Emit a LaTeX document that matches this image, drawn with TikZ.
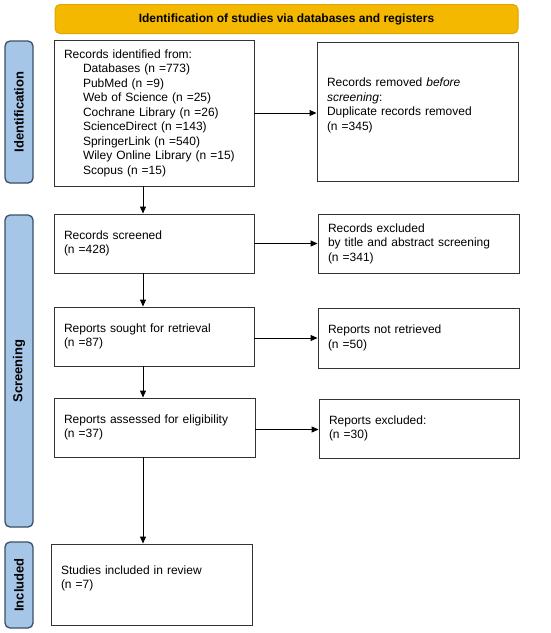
\documentclass[tikz,border=0pt]{standalone}
\usepackage{fontspec}
\setmainfont{Liberation Sans}
\usetikzlibrary{arrows.meta,positioning}
\definecolor{hdrfill}{HTML}{F5B800}
\definecolor{hdrdraw}{HTML}{E0A600}
\definecolor{sidefill}{HTML}{A6C6E7}
\definecolor{sidedraw}{HTML}{3A4F66}
\tikzset{
  box/.style={draw=black!80, line width=0.9pt, rectangle, inner xsep=10pt, inner ysep=2pt,
    align=left, font=\fontsize{12}{14.5}\selectfont, anchor=center},
  sidebox/.style={draw=sidedraw, fill=sidefill, line width=1.3pt, rounded corners=5pt,
    minimum width=28pt, inner sep=0pt},
  sidetext/.style={rotate=90, font=\fontsize{13}{15}\selectfont\bfseries},
  arr/.style={-{Triangle[length=7pt,width=6pt]}, line width=0.9pt, black}
}
\begin{document}
\begin{tikzpicture}[x=1pt,y=-1pt]
\useasboundingbox (0,0) rectangle (550,633);
\fill[white] (0,0) rectangle (550,633);
% header
\node[draw=hdrdraw, fill=hdrfill, line width=1pt, rounded corners=5pt, minimum width=463pt,
  minimum height=29pt, font=\fontsize{12}{14}\selectfont\bfseries] (hdr) at (286.5,19)
  {Identification of studies via databases and registers};
% side labels
\node[sidebox, minimum height=142pt] (sid) at (19,112) {};
\node[sidetext] (sidt) at (sid.center) {Identification};
\node[sidebox, minimum height=312pt] (sscr) at (19,371) {};
\node[sidetext] (sscrt) at (sscr.center) {Screening};
\node[sidebox, minimum height=86pt] (sinc) at (19,585) {};
\node[sidetext] (sinct) at (sinc.center) {Included};
% boxes
\node[box, minimum width=200pt, minimum height=146pt, text width=180pt] (ident) at (154,113)
  {Records identified from:\\
   \hspace*{19pt}Databases (n =773)\\
   \hspace*{19pt}PubMed (n =9)\\
   \hspace*{19pt}Web of Science (n =25)\\
   \hspace*{19pt}Cochrane Library (n =26)\\
   \hspace*{19pt}ScienceDirect (n =143)\\
   \hspace*{19pt}SpringerLink (n =540)\\
   \hspace*{19pt}Wiley Online Library (n =15)\\
   \hspace*{19pt}Scopus (n =15)};
\node[box, minimum width=201pt, minimum height=139pt, text width=181pt] (removed) at (417.5,111.5)
  {Records removed \textit{before}\\ \textit{screening}:\\Duplicate records removed\\(n =345)\\ \mbox{}};
\node[box, minimum width=200pt, minimum height=59pt, text width=180pt] (scr) at (154,243.5)
  {Records screened\\(n =428)};
\node[box, minimum width=201pt, minimum height=59pt, text width=181pt] (excl) at (418.5,243.5)
  {Records excluded\\by title and abstract screening\\(n =341)};
\node[box, minimum width=200pt, minimum height=59pt, text width=180pt] (ret) at (154,336.5)
  {Reports sought for retrieval\\(n =87)};
\node[box, minimum width=201pt, minimum height=60pt, text width=181pt] (notret) at (418.5,338)
  {Reports not retrieved\\(n =50)};
\node[box, minimum width=201pt, minimum height=59pt, text width=181pt] (elig) at (154.5,427.5)
  {Reports assessed for eligibility\\(n =37)};
\node[box, minimum width=200pt, minimum height=59pt, text width=180pt] (exclr) at (419,428.5)
  {Reports excluded:\\(n =30)};
\node[box, minimum width=201pt, minimum height=81pt, text width=181pt] (incl) at (151.5,584.5)
  {Studies included in review\\(n =7)\\ \mbox{}};
% arrows
\draw[arr] (ident.east) -- (ident.east -| removed.west);
\draw[arr] (scr.east) -- (scr.east -| excl.west);
\draw[arr] (ret.east |- notret.west) -- (notret.west);
\draw[arr] ([yshift=-2pt]elig.east) -- ([yshift=-2pt]elig.east -| exclr.west);
\draw[arr] ([xshift=-11pt]ident.south) -- ([xshift=-11pt]ident.south |- scr.north);
\draw[arr] ([xshift=-11pt]scr.south) -- ([xshift=-11pt]scr.south |- ret.north);
\draw[arr] ([xshift=-11pt]ret.south) -- ([xshift=-11pt]ret.south |- elig.north);
\draw[arr] ([xshift=-11.5pt]elig.south) -- ([xshift=-11.5pt]elig.south |- incl.north);
\end{tikzpicture}
\end{document}
